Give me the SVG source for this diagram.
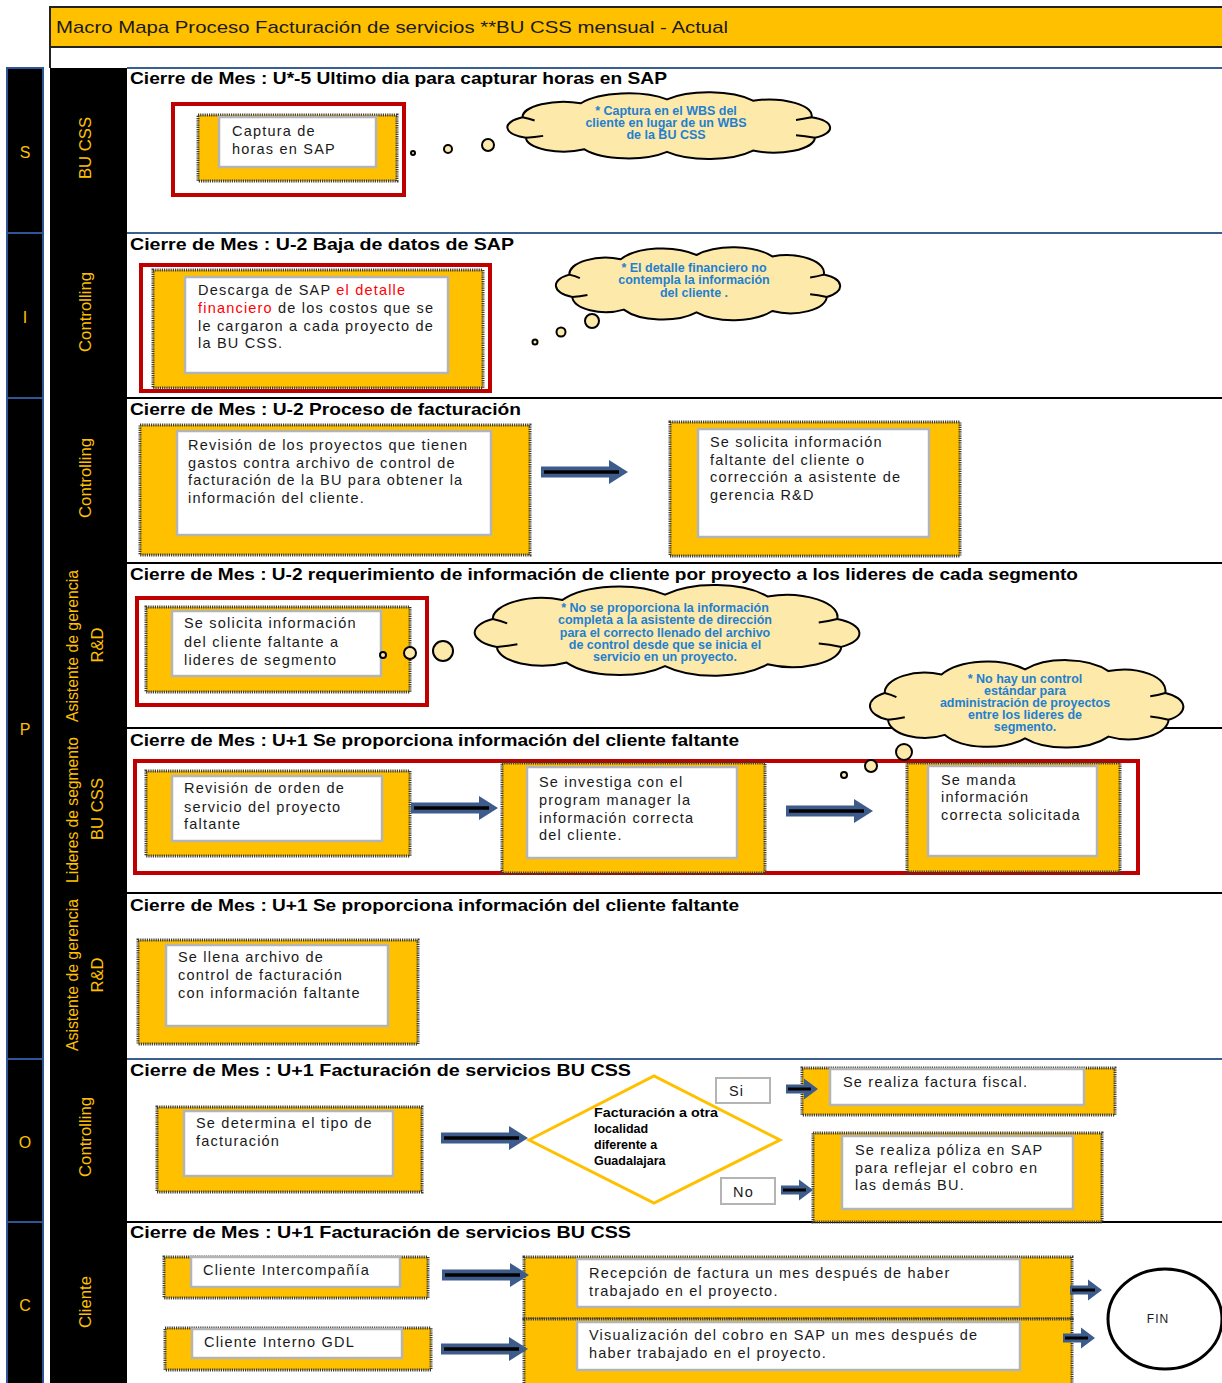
<svg xmlns="http://www.w3.org/2000/svg" xmlns:xlink="http://www.w3.org/1999/xlink" width="1222" height="1383" viewBox="0 0 1222 1383">
  <style>
    .ttl { font-family: "Liberation Sans", Arial, sans-serif; font-weight: bold; font-size: 17px; fill: #000; }
    .lane { font-family: "Liberation Sans", Arial, sans-serif; font-size: 17px; fill: #FFC000; }
    .phase { font-family: "Liberation Sans", Arial, sans-serif; font-size: 16px; fill: #FFC000; text-anchor: middle; }
    .ob { fill: #FFC000; stroke: #3a3a3a; stroke-width: 3; stroke-dasharray: 1.2 1; }
    .ib { fill: #fff; stroke: #b4b4b4; stroke-width: 2.5; }
    .bt { font-family: "Liberation Sans", Arial, sans-serif; font-size: 14.5px; letter-spacing: 1.2px; fill: #1a1a1a; }
    .red { fill: none; stroke: #C00000; stroke-width: 4; }
    .cloud { fill: #FDE9A9; stroke: #000; stroke-width: 2; }
    .ct { font-family: "Liberation Sans", Arial, sans-serif; font-weight: bold; font-size: 12.5px; fill: #1F80D0; text-anchor: middle; }
    .sep { stroke: #000; stroke-width: 2; }
    .sepb { stroke: #3B5E91; stroke-width: 2; }
    .lab { fill: #fff; stroke: #b4b4b4; stroke-width: 2; }
  </style>
  <defs>
    <!-- cloud outline on a 200 x 100 box -->
    <path id="cloudShape" vector-effect="non-scaling-stroke" d="M18,70 A18,18 0 0 1 16,38 A24,24 0 0 1 50,16 A32,32 0 0 1 100,10 A32,32 0 0 1 150,12 A25,25 0 0 1 184,38 A18,18 0 0 1 186,70 A24,24 0 0 1 150,90 A32,32 0 0 1 100,92 A30,30 0 0 1 52,88 A22,22 0 0 1 18,70 Z"/>
    <!-- short inner folds near the rim -->
    <path id="cloudCreases" vector-effect="non-scaling-stroke" fill="none" stroke="#000" stroke-width="2" d="M16,38 Q20,40 23,43 M184,38 Q179,41 175,42 M186,70 Q180,67 175,66 M18,70 Q23,69 28,67"/>
    <!-- long block arrow, tip at (87,0) -->
    <g id="arrowL">
      <path d="M0,-5.5 H68 V-12 L87,0 L68,12 V5.5 H0 Z" fill="#3D5C8C"/>
      <path d="M3,0 H78" stroke="#000" stroke-width="3.5"/>
    </g>
    <!-- short block arrow, tip at (32,0) -->
    <g id="arrowS">
      <path d="M0,-4.5 H18 V-10.5 L32,0 L18,10.5 V4.5 H0 Z" fill="#3D5C8C"/>
      <path d="M2,0 H25" stroke="#000" stroke-width="3"/>
    </g>
  </defs>

  <rect x="0" y="0" width="1222" height="1383" fill="#fff"/>

  <!-- title bar -->
  <g id="header">
    <rect x="50" y="7" width="1174" height="40" fill="#FFC000" stroke="#222" stroke-width="2"/>
    <text x="56" y="33" font-family="Liberation Sans, Arial, sans-serif" font-size="17" fill="#1a1a1a" textLength="672" lengthAdjust="spacingAndGlyphs">Macro Mapa Proceso Facturación de servicios **BU CSS mensual - Actual</text>
    <line x1="50" y1="47" x2="50" y2="68" stroke="#222" stroke-width="2"/>
  </g>

  <!-- phase column -->
  <g id="phases">
    <rect x="7" y="68" width="36" height="165" fill="#000" stroke="#2F5597" stroke-width="2"/>
    <rect x="7" y="233" width="36" height="165" fill="#000" stroke="#2F5597" stroke-width="2"/>
    <rect x="7" y="398" width="36" height="661" fill="#000" stroke="#2F5597" stroke-width="2"/>
    <rect x="7" y="1059" width="36" height="163" fill="#000" stroke="#2F5597" stroke-width="2"/>
    <rect x="7" y="1222" width="36" height="163" fill="#000" stroke="#2F5597" stroke-width="2"/>
    <text class="phase" x="25" y="158">S</text>
    <text class="phase" x="25" y="323">I</text>
    <text class="phase" x="25" y="735">P</text>
    <text class="phase" x="25" y="1148">O</text>
    <text class="phase" x="25" y="1311">C</text>
  </g>

  <!-- role column -->
  <g id="roles">
    <rect x="50" y="68" width="77" height="1317" fill="#000"/>
    <text class="lane" text-anchor="middle" transform="rotate(-90 91 148)" x="91" y="148" textLength="62" lengthAdjust="spacingAndGlyphs">BU CSS</text>
    <text class="lane" text-anchor="middle" transform="rotate(-90 91 312)" x="91" y="312" textLength="80" lengthAdjust="spacingAndGlyphs">Controlling</text>
    <text class="lane" text-anchor="middle" transform="rotate(-90 91 478)" x="91" y="478" textLength="80" lengthAdjust="spacingAndGlyphs">Controlling</text>
    <text class="lane" text-anchor="middle" transform="rotate(-90 78 646)" x="78" y="646" textLength="152" lengthAdjust="spacingAndGlyphs">Asistente de gerencia</text>
    <text class="lane" text-anchor="middle" transform="rotate(-90 103 645)" x="103" y="645" textLength="35" lengthAdjust="spacingAndGlyphs">R&amp;D</text>
    <text class="lane" text-anchor="middle" transform="rotate(-90 78 810)" x="78" y="810" textLength="146" lengthAdjust="spacingAndGlyphs">Lideres de segmento</text>
    <text class="lane" text-anchor="middle" transform="rotate(-90 103 809)" x="103" y="809" textLength="62" lengthAdjust="spacingAndGlyphs">BU CSS</text>
    <text class="lane" text-anchor="middle" transform="rotate(-90 78 975)" x="78" y="975" textLength="152" lengthAdjust="spacingAndGlyphs">Asistente de gerencia</text>
    <text class="lane" text-anchor="middle" transform="rotate(-90 103 975)" x="103" y="975" textLength="35" lengthAdjust="spacingAndGlyphs">R&amp;D</text>
    <text class="lane" text-anchor="middle" transform="rotate(-90 91 1137)" x="91" y="1137" textLength="80" lengthAdjust="spacingAndGlyphs">Controlling</text>
    <text class="lane" text-anchor="middle" transform="rotate(-90 91 1302)" x="91" y="1302" textLength="52" lengthAdjust="spacingAndGlyphs">Cliente</text>
  </g>

  <!-- lane separators and stage titles -->
  <g id="lanes">
    <line class="sepb" x1="127" y1="68" x2="1222" y2="68"/>
    <line class="sepb" x1="127" y1="233" x2="1222" y2="233"/>
    <line class="sep" x1="127" y1="398" x2="1222" y2="398"/>
    <line class="sep" x1="127" y1="563" x2="1222" y2="563"/>
    <line class="sep" x1="127" y1="728" x2="1222" y2="728"/>
    <line class="sep" x1="127" y1="893" x2="1222" y2="893"/>
    <line class="sepb" x1="127" y1="1059" x2="1222" y2="1059"/>
    <line class="sep" x1="127" y1="1222" x2="1222" y2="1222"/>
    <text class="ttl" x="130" y="84" textLength="537" lengthAdjust="spacingAndGlyphs">Cierre de Mes : U*-5 Ultimo dia para capturar horas en SAP</text>
    <text class="ttl" x="130" y="250" textLength="384" lengthAdjust="spacingAndGlyphs">Cierre de Mes : U-2 Baja de datos de SAP</text>
    <text class="ttl" x="130" y="415" textLength="391" lengthAdjust="spacingAndGlyphs">Cierre de Mes : U-2 Proceso de facturación</text>
    <text class="ttl" x="130" y="580" textLength="948" lengthAdjust="spacingAndGlyphs">Cierre de Mes : U-2  requerimiento de información de cliente por proyecto a los lideres de cada segmento</text>
    <text class="ttl" x="130" y="746" textLength="609" lengthAdjust="spacingAndGlyphs">Cierre de Mes : U+1  Se proporciona información del cliente faltante</text>
    <text class="ttl" x="130" y="911" textLength="609" lengthAdjust="spacingAndGlyphs">Cierre de Mes : U+1  Se proporciona información del cliente faltante</text>
    <text class="ttl" x="130" y="1076" textLength="501" lengthAdjust="spacingAndGlyphs">Cierre de Mes : U+1   Facturación de servicios BU CSS</text>
    <text class="ttl" x="130" y="1238" textLength="501" lengthAdjust="spacingAndGlyphs">Cierre de Mes : U+1   Facturación de servicios BU CSS</text>
  </g>

  <!-- highlighted problem areas -->
  <g id="highlights">
    <rect class="red" x="173" y="104" width="231" height="91"/>
    <rect class="red" x="141" y="265" width="349" height="126"/>
    <rect class="red" x="137" y="598" width="290" height="107"/>
    <rect class="red" x="135" y="761" width="1003" height="112"/>
  </g>

  <!-- activity nodes -->
  <g id="captura">
    <rect class="ob" x="198" y="115" width="199" height="66"/>
    <rect class="ib" x="219" y="117" width="157" height="50"/>
    <text class="bt" x="232" y="136">Captura de</text>
    <text class="bt" x="232" y="154">horas en SAP</text>
  </g>

  <g id="descarga">
    <rect class="ob" x="153" y="270" width="330" height="118"/>
    <rect class="ib" x="185" y="277" width="263" height="96"/>
    <text class="bt" x="198" y="295">Descarga de SAP <tspan fill="#FF0000">el detalle</tspan></text>
    <text class="bt" x="198" y="313"><tspan fill="#FF0000">financiero</tspan> de los costos que se</text>
    <text class="bt" x="198" y="331">le cargaron a cada proyecto de</text>
    <text class="bt" x="198" y="348">la BU CSS.</text>
  </g>

  <g id="revision">
    <rect class="ob" x="140" y="425" width="390" height="130"/>
    <rect class="ib" x="177" y="431" width="314" height="104"/>
    <text class="bt" x="188" y="450">Revisión de los proyectos que tienen</text>
    <text class="bt" x="188" y="468">gastos contra archivo de control de</text>
    <text class="bt" x="188" y="485">facturación de la BU para obtener la</text>
    <text class="bt" x="188" y="503">información del cliente.</text>
  </g>

  <g id="solicita-rd">
    <rect class="ob" x="670" y="422" width="290" height="134"/>
    <rect class="ib" x="698" y="429" width="231" height="108"/>
    <text class="bt" x="710" y="447">Se solicita información</text>
    <text class="bt" x="710" y="465">faltante  del cliente o</text>
    <text class="bt" x="710" y="482">corrección  a asistente de</text>
    <text class="bt" x="710" y="500">gerencia R&amp;D</text>
  </g>

  <g id="solicita-lideres">
    <rect class="ob" x="146" y="607" width="264" height="85"/>
    <rect class="ib" x="172" y="611" width="209" height="65"/>
    <text class="bt" x="184" y="628">Se solicita  información</text>
    <text class="bt" x="184" y="647">del cliente faltante a</text>
    <text class="bt" x="184" y="665">lideres de segmento</text>
  </g>

  <g id="orden">
    <rect class="ob" x="146" y="771" width="264" height="85"/>
    <rect class="ib" x="172" y="776" width="210" height="65"/>
    <text class="bt" x="184" y="793">Revisión de orden de</text>
    <text class="bt" x="184" y="812">servicio del proyecto</text>
    <text class="bt" x="184" y="829">faltante</text>
  </g>

  <g id="investiga">
    <rect class="ob" x="502" y="763" width="263" height="110"/>
    <rect class="ib" x="527" y="767" width="210" height="91"/>
    <text class="bt" x="539" y="787">Se investiga con el</text>
    <text class="bt" x="539" y="805">program manager la</text>
    <text class="bt" x="539" y="823">información correcta</text>
    <text class="bt" x="539" y="840">del cliente.</text>
  </g>

  <g id="manda">
    <rect class="ob" x="907" y="763" width="213" height="109"/>
    <rect class="ib" x="928" y="766" width="169" height="90"/>
    <text class="bt" x="941" y="785">Se manda</text>
    <text class="bt" x="941" y="802">información</text>
    <text class="bt" x="941" y="820">correcta solicitada</text>
  </g>

  <g id="llena">
    <rect class="ob" x="138" y="940" width="280" height="104"/>
    <rect class="ib" x="166" y="945" width="222" height="81"/>
    <text class="bt" x="178" y="962">Se llena archivo de</text>
    <text class="bt" x="178" y="980">control de facturación</text>
    <text class="bt" x="178" y="998">con información faltante</text>
  </g>

  <g id="tipo">
    <rect class="ob" x="157" y="1107" width="265" height="85"/>
    <rect class="ib" x="184" y="1111" width="209" height="65"/>
    <text class="bt" x="196" y="1128">Se determina el tipo de</text>
    <text class="bt" x="196" y="1146">facturación</text>
  </g>

  <g id="decision">
    <path d="M529,1140 L654,1076 L780,1140 L654,1203 Z" fill="#fff" stroke="#FFC000" stroke-width="3"/>
    <g font-family="Liberation Sans, Arial, sans-serif" font-weight="bold" font-size="12.5" fill="#000">
      <text x="594" y="1117" textLength="124" lengthAdjust="spacingAndGlyphs">Facturación a otra</text>
      <text x="594" y="1133">localidad</text>
      <text x="594" y="1149">diferente a</text>
      <text x="594" y="1165">Guadalajara</text>
    </g>
  </g>

  <g id="label-si">
    <rect class="lab" x="716" y="1078" width="54" height="25"/>
    <text class="bt" x="729" y="1096">Si</text>
  </g>
  <g id="label-no">
    <rect class="lab" x="721" y="1178" width="54" height="26"/>
    <text class="bt" x="733" y="1197">No</text>
  </g>

  <g id="factura-fiscal">
    <rect class="ob" x="802" y="1068" width="313" height="47"/>
    <rect class="ib" x="830" y="1069" width="254" height="36"/>
    <text class="bt" x="843" y="1087">Se realiza factura fiscal.</text>
  </g>

  <g id="poliza">
    <rect class="ob" x="813" y="1133" width="289" height="89"/>
    <rect class="ib" x="842" y="1136" width="231" height="73"/>
    <text class="bt" x="855" y="1155">Se realiza póliza en SAP</text>
    <text class="bt" x="855" y="1173">para reflejar el cobro en</text>
    <text class="bt" x="855" y="1190">las demás BU.</text>
  </g>

  <g id="cliente-interco">
    <rect class="ob" x="164" y="1257" width="264" height="41"/>
    <rect class="ib" x="191" y="1257" width="209" height="30"/>
    <text class="bt" x="203" y="1275">Cliente Intercompañía</text>
  </g>

  <g id="cliente-gdl">
    <rect class="ob" x="165" y="1328" width="266" height="42"/>
    <rect class="ib" x="192" y="1329" width="210" height="29"/>
    <text class="bt" x="204" y="1347">Cliente Interno GDL</text>
  </g>

  <g id="recepcion">
    <rect class="ob" x="524" y="1257" width="548" height="62"/>
    <rect class="ib" x="577" y="1259" width="443" height="48"/>
    <text class="bt" x="589" y="1278">Recepción de factura un mes después de haber</text>
    <text class="bt" x="589" y="1296">trabajado en el proyecto.</text>
  </g>

  <g id="visualizacion">
    <rect class="ob" x="524" y="1319" width="548" height="66"/>
    <rect class="ib" x="577" y="1322" width="443" height="48"/>
    <text class="bt" x="589" y="1340">Visualización del cobro en SAP  un mes después de</text>
    <text class="bt" x="589" y="1358">haber trabajado en el proyecto.</text>
  </g>

  <g id="fin">
    <ellipse cx="1165" cy="1319" rx="57" ry="50" fill="#fff" stroke="#000" stroke-width="3"/>
    <text x="1158" y="1323" font-family="Liberation Sans, Arial, sans-serif" font-size="12" fill="#1a1a1a" text-anchor="middle" letter-spacing="1">FIN</text>
  </g>

  <!-- connectors -->
  <g id="connectors">
    <use xlink:href="#arrowL" transform="translate(541,472)"/>
    <use xlink:href="#arrowL" transform="translate(411,808)"/>
    <use xlink:href="#arrowL" transform="translate(786,811)"/>
    <use xlink:href="#arrowL" transform="translate(441,1138)"/>
    <use xlink:href="#arrowS" transform="translate(786,1089)"/>
    <use xlink:href="#arrowS" transform="translate(781,1190)"/>
    <use xlink:href="#arrowL" transform="translate(442,1275)"/>
    <use xlink:href="#arrowL" transform="translate(441,1349)"/>
    <use xlink:href="#arrowS" transform="translate(1070,1290)"/>
    <use xlink:href="#arrowS" transform="translate(1063,1338)"/>
  </g>

  <!-- remarks -->
  <g id="remark-wbs">
    <circle class="cloud" cx="413" cy="153" r="2"/>
    <circle class="cloud" cx="448" cy="149" r="4"/>
    <circle class="cloud" cx="488" cy="145" r="6"/>
    <g transform="translate(495,93) scale(1.72,0.64)">
      <use xlink:href="#cloudShape" class="cloud"/>
      <use xlink:href="#cloudCreases"/>
    </g>
    <text class="ct" x="666" y="115">* Captura en el WBS del</text>
    <text class="ct" x="666" y="127">cliente en lugar de un WBS</text>
    <text class="ct" x="666" y="139">de la BU CSS</text>
  </g>

  <g id="remark-detalle">
    <circle class="cloud" cx="535" cy="342" r="2.5"/>
    <circle class="cloud" cx="561" cy="332" r="4.5"/>
    <circle class="cloud" cx="592" cy="321" r="7"/>
    <g transform="translate(545,248) scale(1.515,0.7)">
      <use xlink:href="#cloudShape" class="cloud"/>
      <use xlink:href="#cloudCreases"/>
    </g>
    <text class="ct" x="694" y="272">*  El detalle financiero no</text>
    <text class="ct" x="694" y="284">contempla la información</text>
    <text class="ct" x="694" y="297">del cliente .</text>
  </g>

  <g id="remark-completa">
    <circle class="cloud" cx="383" cy="655" r="3"/>
    <circle class="cloud" cx="410" cy="653" r="6"/>
    <circle class="cloud" cx="443" cy="651" r="10"/>
    <g transform="translate(460,586) scale(2.05,0.87)">
      <use xlink:href="#cloudShape" class="cloud"/>
      <use xlink:href="#cloudCreases"/>
    </g>
    <text class="ct" x="665" y="612">*  No se proporciona la información</text>
    <text class="ct" x="665" y="624">completa a la asistente de dirección</text>
    <text class="ct" x="665" y="637">para el correcto llenado del archivo</text>
    <text class="ct" x="665" y="649">de control desde que se inicia el</text>
    <text class="ct" x="665" y="661">servicio en un proyecto.</text>
  </g>

  <g id="remark-control">
    <circle class="cloud" cx="904" cy="752" r="8"/>
    <circle class="cloud" cx="871" cy="766" r="6"/>
    <circle class="cloud" cx="844" cy="775" r="3"/>
    <g transform="translate(858,661) scale(1.67,0.84)">
      <use xlink:href="#cloudShape" class="cloud"/>
      <use xlink:href="#cloudCreases"/>
    </g>
    <text class="ct" x="1025" y="683">*  No hay un control</text>
    <text class="ct" x="1025" y="695">estándar para</text>
    <text class="ct" x="1025" y="707">administración de proyectos</text>
    <text class="ct" x="1025" y="719">entre los lideres de</text>
    <text class="ct" x="1025" y="731">segmento.</text>
  </g>
</svg>
